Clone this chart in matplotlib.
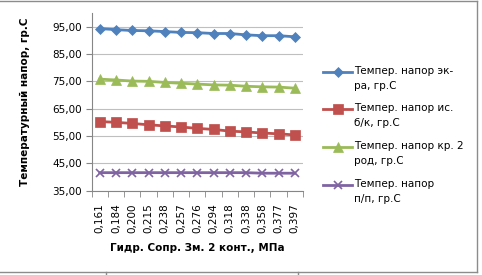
import matplotlib
matplotlib.use("Agg")
import matplotlib.pyplot as plt
from matplotlib.lines import Line2D
import numpy as np

categories = ["0,161", "0,184", "0,200", "0,215", "0,238", "0,257", "0,276",
              "0,294", "0,318", "0,338", "0,358", "0,377", "0,397"]
ekran = [94.3, 93.9, 93.6, 93.5, 93.2, 92.9, 92.8, 92.5, 92.5, 92.0, 91.7, 91.7, 91.3]
isp_bk = [60.3, 60.0, 59.6, 59.1, 58.7, 58.3, 57.8, 57.4, 56.8, 56.5, 56.1, 55.8, 55.4]
kr2_rod = [75.8, 75.5, 75.1, 75.0, 74.6, 74.3, 74.0, 73.7, 73.6, 73.2, 73.0, 72.9, 72.5]
pp = [41.6, 41.6, 41.6, 41.6, 41.6, 41.6, 41.6, 41.6, 41.6, 41.6, 41.4, 41.4, 41.4]
yticks = [35, 45, 55, 65, 75, 85, 95]

labels = ["Темпер. напор эк-\nра, гр.С", "Темпер. напор ис.\nб/к, гр.С",
          "Темпер. напор кр. 2\nрод, гр.С", "Темпер. напор\nп/п, гр.С"]
colors = ["#4F81BD", "#C0504D", "#9BBB59", "#8064A2"]
markers = ["D", "s", "^", "x"]
msizes = [5, 6.5, 7, 6]
series = [ekran, isp_bk, kr2_rod, pp]

W, H = 482, 275
fig = plt.figure(figsize=(W / 100, H / 100), dpi=100)
ax = fig.add_axes([91.7 / W, 1 - 190.7 / H, (303 - 91.7) / W, (190.7 - 13) / H])

x = np.arange(len(categories))
for ys, c, m, ms in zip(series, colors, markers, msizes):
    ax.plot(x, ys, color=c, lw=2, marker=m, ms=ms, mew=1.2 if m == "x" else 0.5,
            mec=c, mfc=c, zorder=3)

ax.set_xlim(-0.5, len(categories) - 0.5)
ax.set_ylim(35, 100)
ax.set_yticks(yticks)
ax.set_yticklabels([f"{v:.2f}".replace(".", ",") for v in yticks], fontsize=7.5)
ax.set_xticks(x)
ax.set_xticklabels(categories, rotation=90, fontsize=7.5)
ax.set_xticks(np.arange(-0.5, len(categories)), minor=True)
ax.tick_params(axis="x", which="major", length=0, pad=9)
ax.tick_params(axis="x", which="minor", length=4, color="#868686")
ax.tick_params(axis="y", length=4, color="#868686", pad=3)
ax.grid(axis="y", color="#bfbfbf", lw=0.8)
ax.set_axisbelow(True)
for s in ["top", "right"]:
    ax.spines[s].set_visible(False)
for s in ["left", "bottom"]:
    ax.spines[s].set_color("#868686")

fig.text(25 / W, 1 - 102 / H, "Температурный напор, гр.С", rotation=90,
         ha="center", va="center", fontsize=7.5, fontweight="bold")
fig.text(197 / W, 1 - 248 / H, "Гидр. Сопр. Зм. 2 конт., МПа",
         ha="center", va="center", fontsize=7.5, fontweight="bold")

# legend, laid out by hand
ys_leg = [72, 109, 147, 185]
for yl, lab, c, m, ms in zip(ys_leg, labels, colors, markers, msizes):
    yf = 1 - yl / H
    fig.add_artist(Line2D([323 / W, 352 / W], [yf, yf], color=c, lw=2,
                          transform=fig.transFigure))
    fig.add_artist(Line2D([337.5 / W], [yf], color=c, marker=m, ms=ms,
                          mew=1.2 if m == "x" else 0.5, mec=c, mfc=c,
                          transform=fig.transFigure))
    fig.text(354 / W, yf + 6 / H, lab, ha="left", va="top", fontsize=7.5,
             linespacing=1.6)

# chart border and sheet cell lines
edges = [([0, 477], [0.5, 0.5]), ([477, 477], [0.5, 272]), ([0, 477], [272, 272]),
         ([106, 106], [272, 275]), ([298, 298], [272, 275])]
for xs, ys in edges:
    fig.add_artist(Line2D([v / W for v in xs], [1 - v / H for v in ys],
                          color="#8c8c8c", lw=1, transform=fig.transFigure))

fig.savefig("out.png", dpi=100)
